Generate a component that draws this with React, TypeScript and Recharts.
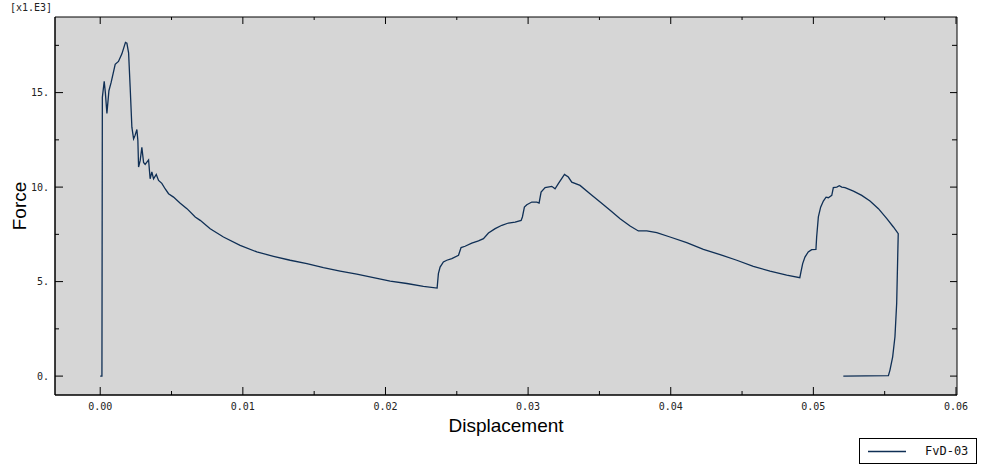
import React from "react";
import { LineChart, Line, XAxis, YAxis, ReferenceArea } from "recharts";

// Displacement (x) and Force (x1.E3)
const displacement: number[] = [
  0, 0.00012, 0.00015, 0.00028, 0.00036, 0.00047, 0.00061, 0.00077, 0.00105, 0.00128,
  0.00152, 0.00177, 0.00187, 0.00199, 0.0021, 0.00222, 0.00234, 0.00245, 0.00257, 0.00264,
  0.00269, 0.0028, 0.00292, 0.00304, 0.00315, 0.00339, 0.0035, 0.00362, 0.00374, 0.00393,
  0.00409, 0.00432, 0.00456, 0.00479, 0.00514, 0.00561, 0.00608, 0.00666, 0.00701, 0.00771,
  0.00864, 0.00981, 0.01098, 0.01215, 0.01332, 0.01449, 0.01565, 0.01682, 0.01799, 0.01916,
  0.02033, 0.0215, 0.02266, 0.02362, 0.02371, 0.02383, 0.02406, 0.0243, 0.02465, 0.02512,
  0.0253, 0.02558, 0.02605, 0.02652, 0.02687, 0.02722, 0.02769, 0.02816, 0.02862, 0.02909,
  0.02951, 0.0296, 0.02974, 0.02991, 0.03026, 0.03061, 0.03077, 0.03091, 0.03119, 0.03166,
  0.03189, 0.03212, 0.03255, 0.03282, 0.03306, 0.03364, 0.03434, 0.03505, 0.03575, 0.03645,
  0.03715, 0.03773, 0.03832, 0.03902, 0.03995, 0.04112, 0.04229, 0.04346, 0.04463, 0.04579,
  0.04696, 0.04813, 0.04905, 0.04913, 0.04925, 0.04941, 0.04964, 0.04988, 0.05018, 0.05023,
  0.05035, 0.05051, 0.0507, 0.05089, 0.05105, 0.05129, 0.0514, 0.05164, 0.05182, 0.05199,
  0.05222, 0.05281, 0.05339, 0.05397, 0.05456, 0.05515, 0.05561, 0.05595, 0.05584, 0.05572,
  0.05556, 0.05537, 0.05526, 0.0521,
];
const force: number[] = [
  0, 0, 14.75, 15.6, 15.0, 13.9, 15.1, 15.55, 16.5, 16.65,
  17.05, 17.66, 17.62, 17.1, 15.28, 13.17, 12.55, 12.75, 13.05, 12.47,
  11.06, 11.4, 12.1, 11.3, 11.2, 11.44, 10.44, 10.8, 10.44, 10.67,
  10.35, 10.2, 9.9, 9.65, 9.47, 9.15, 8.86, 8.42, 8.24, 7.8,
  7.36, 6.92, 6.57, 6.34, 6.13, 5.95, 5.74, 5.56, 5.39, 5.21,
  5.03, 4.9, 4.75, 4.66, 5.42, 5.77, 6.04, 6.13, 6.22, 6.39,
  6.8, 6.87, 7.04, 7.15, 7.27, 7.57, 7.8, 7.98, 8.1, 8.15,
  8.24, 8.42, 8.94, 9.07, 9.21, 9.21, 9.16, 9.74, 9.97, 10.04,
  9.91, 10.18, 10.67, 10.53, 10.26, 10.09, 9.65, 9.21, 8.77, 8.33,
  7.94, 7.68, 7.68, 7.59, 7.36, 7.06, 6.71, 6.43, 6.13, 5.81,
  5.55, 5.34, 5.21, 5.51, 5.95, 6.3, 6.57, 6.69, 6.71, 7.36,
  8.42, 8.94, 9.26, 9.47, 9.44, 9.56, 9.97, 10.0, 10.07, 10.0,
  9.97, 9.79, 9.56, 9.26, 8.86, 8.33, 7.89, 7.54, 3.84, 2.08,
  1.02, 0.32, 0.02, 0.0,
];

const xTicks: number[] = [0, 0.005, 0.01, 0.015, 0.02, 0.025, 0.03, 0.035, 0.04, 0.045, 0.05, 0.055, 0.06];
const xMajor: number[] = [0, 0.01, 0.02, 0.03, 0.04, 0.05, 0.06];
const yTicks: number[] = [0, 2.5, 5, 7.5, 10, 12.5, 15, 17.5];
const yMajor: number[] = [0, 5, 10, 15];

const seriesName = "FvD-03";
const xTitle = "Displacement";
const yTitle = "Force";
const yScaleNote = "[x1.E3]";

const data = displacement.map((x, i) => ({ x, y: force[i] }));

const W = 983;
const H = 470;
const MARGIN = { top: 17, right: 26, bottom: 0, left: 0 };
const YAXIS_W = 55;
const XAXIS_H = 75;
const PL = MARGIN.left + YAXIS_W;
const PR = W - MARGIN.right;
const PT = MARGIN.top;
const PB = H - MARGIN.bottom - XAXIS_H;

const X_DOMAIN: [number, number] = [-0.00317, 0.06007];
const Y_DOMAIN: [number, number] = [-1, 19];

const LINE_COLOR = "#0f2f55";
const BG = "#d6d6d6";
const TICK_FONT = "'DejaVu Sans Mono', monospace";
const TITLE_FONT = "'Liberation Sans', Arial, sans-serif";

const isMajorX = (v: number) => xMajor.some((m) => Math.abs(m - v) < 1e-9);
const isMajorY = (v: number) => yMajor.some((m) => Math.abs(m - v) < 1e-9);

const XTick = (props: any) => {
  const { x, payload } = props;
  const v = payload.value as number;
  const major = isMajorX(v);
  return (
    <g>
      <line x1={x} x2={x} y1={PB} y2={PB - (major ? 8 : 4)} stroke="#000" />
      <line x1={x} x2={x} y1={PT} y2={PT + (major ? 7 : 3)} stroke="#000" />
      {major && (
        <text
          x={x}
          y={PB + 11}
          textAnchor="middle"
          dominantBaseline="central"
          fontFamily={TICK_FONT}
          fontSize={10}
          fill="#222"
        >
          {v.toFixed(2)}
        </text>
      )}
    </g>
  );
};

const YTick = (props: any) => {
  const { y, payload } = props;
  const v = payload.value as number;
  const major = isMajorY(v);
  return (
    <g>
      <line x1={PL} x2={PL + (major ? 8 : 4)} y1={y} y2={y} stroke="#000" />
      <line x1={PR} x2={PR - (major ? 7 : 5)} y1={y} y2={y} stroke="#000" />
      {major && (
        <text
          x={PL - 6}
          y={y}
          textAnchor="end"
          dominantBaseline="central"
          fontFamily={TICK_FONT}
          fontSize={10}
          fill="#222"
        >
          {`${v}.`}
        </text>
      )}
    </g>
  );
};

const XLabel = (props: any) => {
  const vb = props.viewBox || { x: PL, y: PB, width: PR - PL, height: XAXIS_H };
  return (
    <text
      x={vb.x + vb.width / 2}
      y={vb.y + 30}
      textAnchor="middle"
      dominantBaseline="central"
      fontFamily={TITLE_FONT}
      fontSize={19}
      fill="#000"
    >
      {xTitle}
    </text>
  );
};

const YLabel = (props: any) => {
  const vb = props.viewBox || { x: 0, y: PT, width: YAXIS_W, height: PB - PT };
  const cx = 19;
  const cy = vb.y + vb.height / 2;
  return (
    <text
      x={cx}
      y={cy}
      transform={`rotate(-90 ${cx} ${cy})`}
      textAnchor="middle"
      dominantBaseline="central"
      fontFamily={TITLE_FONT}
      fontSize={19}
      fill="#000"
    >
      {yTitle}
    </text>
  );
};

export default function App() {
  return (
    <div style={{ position: "relative", width: W, height: H, background: "#fff" }}>
      <style>{"body{margin:0;}"}</style>
      <LineChart width={W} height={H} data={data} margin={MARGIN}>
        <ReferenceArea
          x1={X_DOMAIN[0]}
          x2={X_DOMAIN[1]}
          y1={Y_DOMAIN[0]}
          y2={Y_DOMAIN[1]}
          fill={BG}
          fillOpacity={1}
          stroke="#000"
          strokeWidth={1}
          ifOverflow="visible"
        />
        <XAxis
          type="number"
          dataKey="x"
          domain={X_DOMAIN}
          allowDataOverflow
          ticks={xTicks}
          interval={0}
          height={XAXIS_H}
          tickLine={false}
          axisLine={{ stroke: "#000" }}
          tick={(p: any) => <XTick {...p} />}
          label={(p: any) => <XLabel {...p} />}
        />
        <YAxis
          type="number"
          dataKey="y"
          domain={Y_DOMAIN}
          allowDataOverflow
          ticks={yTicks}
          interval={0}
          width={YAXIS_W}
          tickLine={false}
          axisLine={{ stroke: "#000" }}
          tick={(p: any) => <YTick {...p} />}
          label={(p: any) => <YLabel {...p} />}
        />
        <Line
          type="linear"
          dataKey="y"
          name={seriesName}
          stroke={LINE_COLOR}
          strokeWidth={1.3}
          dot={false}
          isAnimationActive={false}
        />
      </LineChart>
      <div
        style={{
          position: "absolute",
          left: 10,
          top: 1,
          fontFamily: TICK_FONT,
          fontSize: 10,
          color: "#222",
          lineHeight: "14px",
        }}
      >
        {yScaleNote}
      </div>
      <div
        style={{
          position: "absolute",
          left: 859,
          top: 438,
          width: 116,
          height: 24,
          border: "1px solid #000",
          background: "#fff",
          boxSizing: "content-box",
        }}
      >
        <svg width={116} height={24} style={{ position: "absolute", left: 0, top: 0 }}>
          <line x1={8} x2={46} y1={12.5} y2={12.5} stroke={LINE_COLOR} strokeWidth={1.3} />
        </svg>
        <span
          style={{
            position: "absolute",
            left: 65,
            top: 4,
            fontFamily: TICK_FONT,
            fontSize: 12,
            lineHeight: "16px",
            color: "#111",
          }}
        >
          {seriesName}
        </span>
      </div>
    </div>
  );
}
